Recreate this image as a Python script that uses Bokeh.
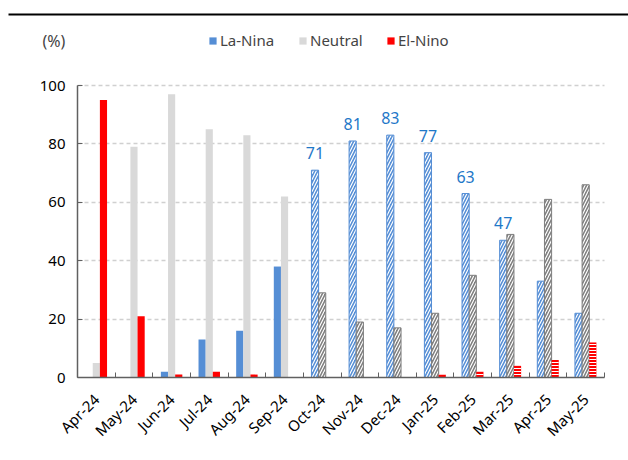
import math
from bokeh.plotting import figure
from bokeh.models import (Range1d, FixedTicker, Legend, LegendItem, Label,
                          ColumnDataSource, BoxAnnotation)
from bokeh.embed import file_html
from bokeh.resources import INLINE

# ENSO probabilities (%) by month; later months are forecasts
months = ["Apr-24", "May-24", "Jun-24", "Jul-24", "Aug-24", "Sep-24", "Oct-24",
          "Nov-24", "Dec-24", "Jan-25", "Feb-25", "Mar-25", "Apr-25", "May-25"]
la_nina = [0, 0, 2, 13, 16, 38, 71, 81, 83, 77, 63, 47, 33, 22]
neutral = [5, 79, 97, 85, 83, 62, 29, 19, 17, 22, 35, 49, 61, 66]
el_nino = [95, 21, 1, 2, 1, 0, 0, 0, 0, 1, 2, 4, 6, 12]
series_names = ["La-Nina", "Neutral", "El-Nino"]
n_observed = 6          # Apr-24 .. Sep-24 observed, rest forecast
labelled = ["Oct-24", "Nov-24", "Dec-24", "Jan-25", "Feb-25", "Mar-25"]
y_ticks = [0, 20, 40, 60, 80, 100]

FONT = "Noto Sans"
FS = "15px"
BLUE, GREY, RED = "#558ed5", "#d9d9d9", "#ff0000"
GREY_F = "#7f7f7f"
AXIS = "#606060"

# page geometry (px): the plot area sits inside a 628x460 canvas
W, H = 628, 460
PL, PR, PT, PB = 77, 604, 85, 377          # plot-area edges
LEGEND_X = [208, 298, 386]                 # left edge of each legend swatch

n = len(months)
centers = [i + 0.5 for i in range(n)]
bw = 0.19

# the frame covers the whole canvas so header items are not clipped;
# ranges are chosen so categories 0..n and 0..100 % land on the plot area
cw = (PR - PL) / n
ypx = (PB - PT) / 100.0
x_range = Range1d(-PL / cw, (W - PL) / cw)
y_range = Range1d(-(H - PB) / ypx, PB / ypx)

p = figure(width=W, height=H, output_backend="svg", toolbar_location=None,
           x_range=x_range, y_range=y_range, min_border=0)
p.outline_line_color = None
p.background_fill_color = "white"
p.xgrid.visible = False
p.ygrid.ticker = FixedTicker(ticks=y_ticks[1:])
p.ygrid.grid_line_color = "#d0d0d0"
p.ygrid.grid_line_dash = "4 3"
p.ygrid.grid_line_width = 1.5
p.ygrid.cross_bounds = (0, n)

def src(vals, lo, hi, off):
    return ColumnDataSource(dict(x=[c + off for c in centers[lo:hi]], top=vals[lo:hi]))

series = [(la_nina, -bw, BLUE, BLUE), (neutral, 0, GREY, GREY_F), (el_nino, bw, RED, RED)]
legend_rs = []
for vals, off, col_obs, col_fc in series:
    r = p.vbar(x="x", top="top", width=bw, bottom=0, source=src(vals, 0, n_observed, off),
               fill_color=col_obs, line_color=None)
    legend_rs.append(r)
    if vals is el_nino:
        p.vbar(x="x", top="top", width=bw, bottom=0, source=src(vals, n_observed, n, off),
               fill_color=col_fc, line_color=None,
               hatch_pattern="-", hatch_color="white", hatch_scale=3, hatch_weight=1)
    else:
        p.vbar(x="x", top="top", width=bw, bottom=0, source=src(vals, n_observed, n, off),
               fill_color=col_fc, line_color=col_fc, line_width=1,
               hatch_pattern="/", hatch_color="white", hatch_scale=6, hatch_weight=1.2)

# value labels above the La-Nina forecast bars
idx = [months.index(m) for m in labelled]
lab_src = ColumnDataSource(dict(x=[centers[i] - bw for i in idx],
                                y=[la_nina[i] for i in idx],
                                t=[str(la_nina[i]) for i in idx]))
p.text(x="x", y="y", text="t", source=lab_src, text_align="center",
       text_baseline="bottom", y_offset=-11, text_color="#1f78c8",
       text_font={"value": FONT}, text_font_size="16px")

# axes pinned to the data origin
p.yaxis.fixed_location = 0
p.yaxis.bounds = (0, 100)
p.yaxis.ticker = FixedTicker(ticks=y_ticks)
p.yaxis.major_tick_in = 5
p.yaxis.major_tick_out = 0
p.yaxis.minor_tick_line_color = None
p.yaxis.major_label_standoff = 12
p.xaxis.fixed_location = 0
p.xaxis.bounds = (0, n)
p.xaxis.ticker = FixedTicker(ticks=centers, minor_ticks=list(range(n + 1)))
p.xaxis.major_label_overrides = {c: m for c, m in zip(centers, months)}
p.xaxis.major_tick_line_color = None
p.xaxis.minor_tick_in = 5
p.xaxis.minor_tick_out = 0
p.xaxis.major_label_orientation = math.pi / 4
p.xaxis.major_label_standoff = 13
for ax in (p.xaxis, p.yaxis):
    ax.axis_line_color = AXIS
    ax.axis_line_width = 1.5
    ax.major_label_text_font = FONT
    ax.major_label_text_font_size = FS
    ax.major_label_text_color = "#000000"
p.xaxis.minor_tick_line_color = AXIS
p.yaxis.major_tick_line_color = AXIS

# legend: one entry per series, each pinned along the header row
for name, rend, lx in zip(series_names, legend_rs, LEGEND_X):
    lg = Legend(items=[LegendItem(label=name, renderers=[rend])],
                location=(lx, H - 50), glyph_width=9, glyph_height=9,
                label_standoff=3, padding=0, margin=0, border_line_color=None,
                background_fill_alpha=0, label_text_font=FONT,
                label_text_font_size=FS)
    p.add_layout(lg, "center")

p.add_layout(Label(x=42, y=H - 40, x_units="screen", y_units="screen", text="(%)",
                   text_font=FONT, text_font_size="16px", text_baseline="middle"))

# rule across the top of the page
p.add_layout(BoxAnnotation(left=8, right=W, top=13, bottom=15,
                           left_units="canvas", right_units="canvas",
                           top_units="canvas", bottom_units="canvas",
                           fill_color="black", fill_alpha=1, line_color=None))

open("out.html", "w").write(file_html(p, INLINE))
